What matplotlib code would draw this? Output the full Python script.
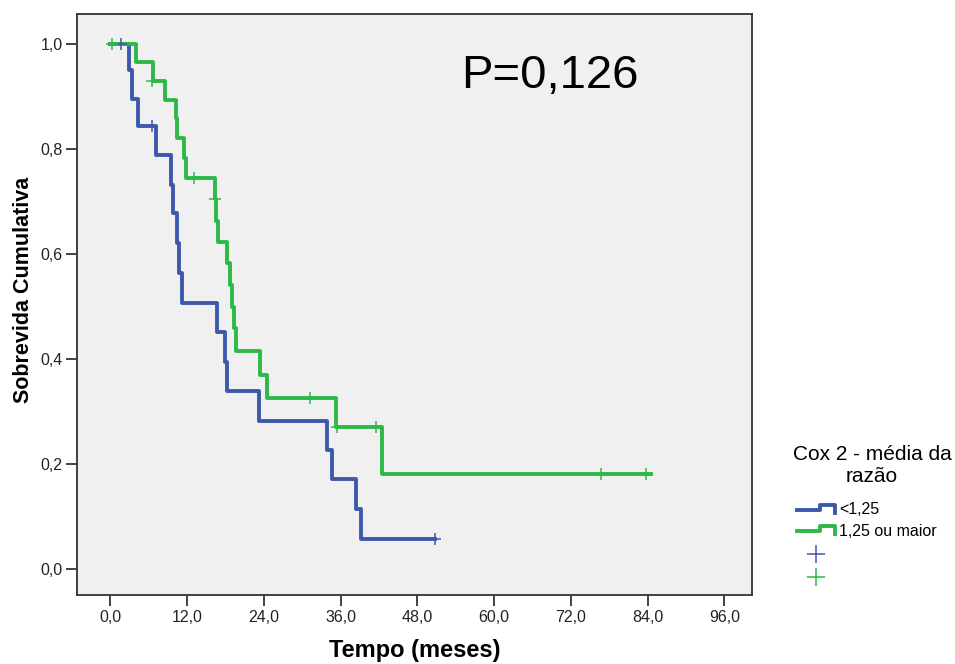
import numpy as np
import matplotlib
matplotlib.use("Agg")
from matplotlib import pyplot as plt
from matplotlib.lines import Line2D

# Kaplan-Meier curves
blue_t = [0, 3.0, 3.4, 4.4, 7.2, 9.5, 9.8, 10.4, 10.7, 11.2, 16.7, 18.0, 18.3, 23.3, 33.9, 34.7, 38.4, 39.2, 50.8]
blue_s = [1.0, 0.950, 0.895, 0.844, 0.789, 0.731, 0.678, 0.621, 0.564, 0.507, 0.451, 0.394, 0.338, 0.282, 0.227, 0.171, 0.114, 0.057, 0.057]
blue_cens_t = [1.7, 6.6, 50.8]
blue_cens_s = [1.0, 0.844, 0.057]

green_t = [0, 4.0, 6.7, 8.6, 10.3, 10.5, 11.5, 11.8, 16.4, 16.6, 16.8, 18.3, 18.7, 19.0, 19.3, 19.7, 23.4, 24.5, 35.3, 42.5, 84.5]
green_s = [1.0, 0.966, 0.930, 0.893, 0.859, 0.821, 0.783, 0.745, 0.705, 0.663, 0.623, 0.583, 0.541, 0.499, 0.459, 0.415, 0.370, 0.326, 0.270, 0.181, 0.181]
green_cens_t = [0.3, 6.6, 13.1, 16.4, 31.2, 35.5, 41.6, 76.7, 83.7]
green_cens_s = [1.0, 0.930, 0.745, 0.705, 0.326, 0.270, 0.270, 0.181, 0.181]

x_ticks = [0, 12, 24, 36, 48, 60, 72, 84, 96]
y_ticks = [0.0, 0.2, 0.4, 0.6, 0.8, 1.0]
legend_labels = ["<1,25", "1,25 ou maior"]

BLUE = "#3E58AC"
GREEN = "#2EB848"
W, H = 955, 664

plt.rcParams['font.family'] = ['Liberation Sans', 'DejaVu Sans']

fig = plt.figure(figsize=(W / 100, H / 100), dpi=100)
ax = fig.add_axes([77 / W, 1 - 595 / H, (752 - 77) / W, (595 - 14) / H])
ax.set_facecolor("#F0F0F0")

ax.step(blue_t, blue_s, where='post', color=BLUE, lw=2.8)
ax.step(green_t, green_s, where='post', color=GREEN, lw=2.8)
ax.plot(blue_cens_t, blue_cens_s, ls='none', marker='+', ms=9, mew=1.1, color=BLUE)
ax.plot(green_cens_t, green_cens_s, ls='none', marker='+', ms=9, mew=1.1, color=GREEN)

ax.set_xlim(-5.2, 100.3)
ax.set_ylim(-0.05, 1.057)
ax.set_xticks(x_ticks)
ax.set_xticklabels([f"{v:.1f}".replace(".", ",") for v in x_ticks])
ax.set_yticks(y_ticks)
ax.set_yticklabels([f"{v:.1f}".replace(".", ",") for v in y_ticks])
ax.tick_params(direction='out', length=8, width=1.3, labelsize=11.5, pad=2.5,
               color="#333333", labelcolor="#222222")
for sp in ax.spines.values():
    sp.set_color("#333333")
    sp.set_linewidth(1.3)

ax.set_xlabel("Tempo (meses)", fontsize=17, fontweight='bold')
ax.xaxis.set_label_coords(0.5, -(639 - 595) / 581)
ax.set_ylabel("Sobrevida Cumulativa", fontsize=15.5, fontweight='bold')
ax.yaxis.set_label_coords(-(77 - 34) / 675, (595 - 290) / 581)

ax.text(0.70, (595 - 88) / 581, "P=0,126", transform=ax.transAxes, fontsize=34,
        ha='center', va='baseline')


def px(x, y):
    return x / W, 1 - y / H


# legend outside, drawn by hand
fig.text(*px(872, 455), "Cox 2 - média da", fontsize=15, ha='center', va='center')
fig.text(*px(872, 476), "razão", fontsize=15, ha='center', va='center')
for i, (lab, col) in enumerate(zip(legend_labels, [BLUE, GREEN])):
    y0 = 510 + i * 21
    xs = [797, 820, 820, 835, 835]
    ys = [y0, y0, y0 - 5, y0 - 5, y0 + 3]
    fx, fy = zip(*[px(a, b) for a, b in zip(xs, ys)])
    fig.add_artist(Line2D(fx, fy, color=col, lw=2.8, transform=fig.transFigure))
    fig.text(*px(839, y0), lab, fontsize=11.5, ha='left', va='center')
for i, col in enumerate([BLUE, GREEN]):
    fx, fy = px(816, 554 + i * 23)
    fig.add_artist(Line2D([fx], [fy], marker='+', ms=13, mew=1.1, color=col, transform=fig.transFigure))

fig.savefig("out.png", dpi=100)
